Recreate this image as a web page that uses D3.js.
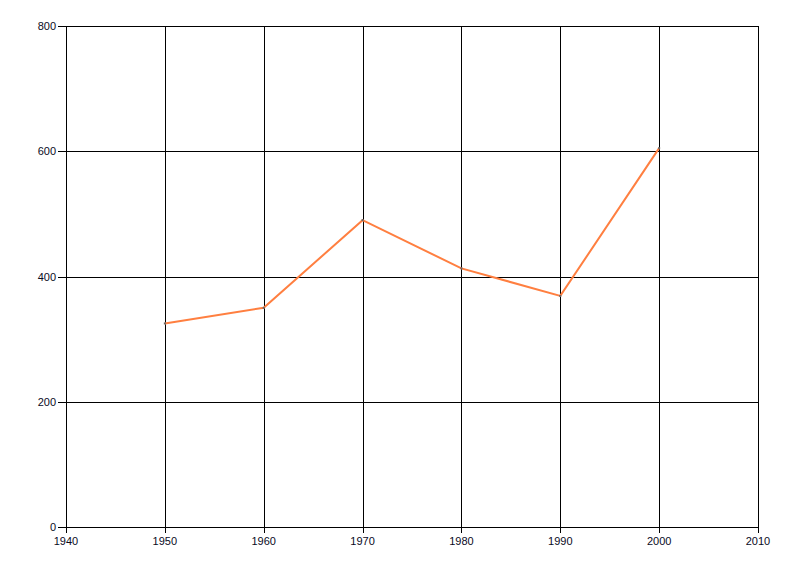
<!DOCTYPE html>
<html><head><meta charset="utf-8">
<script src="https://cdn.jsdelivr.net/npm/d3@7"></script>
<style>body{margin:0;background:#fff}svg{display:block}text{font-family:"Liberation Sans",Arial,sans-serif;font-size:11px;fill:#0a0a1e}</style>
</head><body>
<script>
const years = [1950, 1960, 1970, 1980, 1990, 2000];
const values = [325, 350, 490, 413, 369, 605];
const xTicks = [1940, 1950, 1960, 1970, 1980, 1990, 2000, 2010];
const yTicks = [0, 200, 400, 600, 800];

const W = 800, H = 576;
const svg = d3.select("body").append("svg").attr("width", W).attr("height", H);
const x = d3.scaleLinear().domain([1940, 2010]).range([66, 758]);
const y = d3.scaleLinear().domain([0, 800]).range([527, 26]);

const g = svg.append("g").attr("shape-rendering", "crispEdges");
// vertical grid
g.selectAll(".vg").data(xTicks).enter().append("line")
  .attr("x1", d => Math.round(x(d)) + 0.5).attr("x2", d => Math.round(x(d)) + 0.5)
  .attr("y1", y(800)).attr("y2", y(0) + 6).attr("stroke", "#000");
// horizontal grid
g.selectAll(".hg").data(yTicks).enter().append("line")
  .attr("y1", d => Math.round(y(d)) + 0.5).attr("y2", d => Math.round(y(d)) + 0.5)
  .attr("x1", x(1940) - 8).attr("x2", x(2010)).attr("stroke", "#000");

svg.selectAll(".yl").data(yTicks).enter().append("text")
  .attr("x", x(1940) - 10).attr("y", d => Math.round(y(d)) + 4)
  .attr("text-anchor", "end").text(d => d);
svg.selectAll(".xl").data(xTicks).enter().append("text")
  .attr("x", d => x(d)).attr("y", y(0) + 18)
  .attr("text-anchor", "middle").text(d => d);

const line = d3.line().x((d, i) => x(years[i])).y(d => y(d));
svg.append("path").datum(values).attr("d", line)
  .attr("fill", "none").attr("stroke", "#ff7f40").attr("stroke-width", 2);
svg.selectAll(".pt").data(values).enter().append("rect")
  .attr("x", (d, i) => x(years[i]) - 1).attr("y", d => y(d) - 1)
  .attr("width", 2).attr("height", 2).attr("fill", "#666");
</script>
</body></html>
